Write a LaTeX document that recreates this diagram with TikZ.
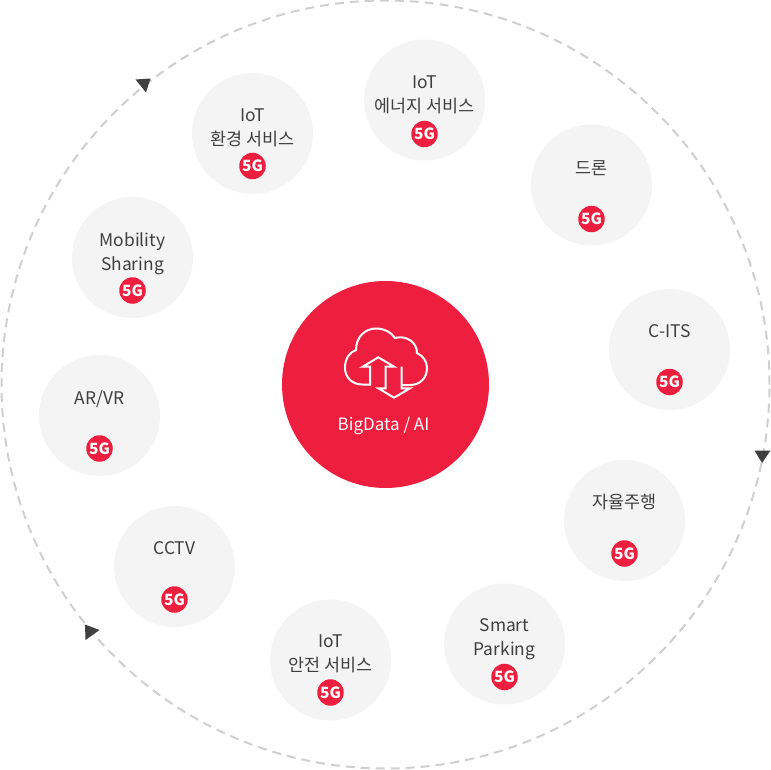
\documentclass[tikz,border=0pt]{standalone}
\usepackage{fontspec}
\setmainfont{Noto Sans CJK KR}[Scale=1]
\definecolor{brand}{HTML}{EE1F3E}
\definecolor{pale}{HTML}{F4F4F4}
\definecolor{ink}{HTML}{3F3F3F}
\definecolor{ringc}{HTML}{CFCFCF}
\newcommand{\svcitem}[6]{% name, x, y, text y offset, badge offset, text
  \node[bubble] (#1) at (#2,#3) {};
  \node[svctext] (#1t) at (#2,#3+#4+1.3) {#6};
  \node[badge] (#1b) at (#2,#3+#5) {5G};
}
\tikzset{
  bubble/.style={circle,fill=pale,minimum size=121pt,inner sep=0pt},
  svctext/.style={align=center,inner sep=0pt,text=ink,font=\fontsize{17.4}{24}\selectfont},
  badge/.style={circle,fill=brand,minimum size=26.5pt,inner sep=0pt,text=white,font=\fontsize{15.5}{16}\selectfont\bfseries},
  tri/.style={fill=ink,draw=none},
  icon/.style={draw=white,line width=2pt,line join=miter},
}
\begin{document}
\begin{tikzpicture}[x=1pt,y=-1pt]
\useasboundingbox (0,0) rectangle (771,770);
\node[circle,draw=ringc,dash pattern=on 9pt off 6pt,line width=2pt,minimum size=768pt,inner sep=0pt] (ring) at (385.5,384.5) {};
\fill[tri] (135.5,79.5) -- (150.5,78.5) -- (146,92.5) -- cycle;
\fill[tri] (754.5,450.5) -- (770.5,450.5) -- (762,463) -- cycle;
\fill[tri] (85,624.5) -- (99.5,630) -- (85.5,640) -- cycle;
\svcitem{env}{252.5}{133.5}{-6.5}{32.5}{IoT\\환경 서비스}
\svcitem{energy}{424.5}{100}{-6}{34}{IoT\\에너지 서비스}
\svcitem{drone}{591.5}{185}{-18}{34}{드론}
\svcitem{cits}{669.5}{349.5}{-20}{32.5}{C-ITS}
\svcitem{auto}{624.5}{520.5}{-19.5}{33}{자율주행}
\svcitem{park}{504.5}{644}{-6}{33}{Smart\\Parking}
\svcitem{safe}{330.5}{660}{-7}{32.5}{IoT\\안전 서비스}
\svcitem{cctv}{174.5}{566.5}{-19.5}{33}{CCTV}
\svcitem{arvr}{99.5}{415.5}{-18}{33}{AR/VR}
\svcitem{mob}{132.5}{257.5}{-5.5}{33}{Mobility\\Sharing}
\node[circle,fill=brand,minimum size=207pt,inner sep=0pt] (core) at (385.5,384.5) {};
\node[text=white,inner sep=0pt,font=\fontsize{17}{20}\selectfont] (corelabel) at (383.5,426) {BigData / AI};
\draw[icon] (370,384.5) -- (362,384.5) .. controls (352,384.5) and (345,377) .. (345,368)
  .. controls (345,358) and (350,352) .. (356,350)
  .. controls (356,337) and (365,328.5) .. (376,328.5)
  .. controls (384,328.5) and (391,332) .. (395,338)
  .. controls (406,335) and (417,342) .. (417,353)
  .. controls (423,356) and (427,361) .. (427,368)
  .. controls (427,378) and (420,385) .. (410,385) -- (401.7,385);
\draw[icon] (370,385.5) -- (370,366.7) -- (362.7,366.7) -- (378.3,357.3) -- (394,366.7) -- (385.7,366.7) -- (385.7,388.3) -- (378.3,388.3) -- (394,397.7) -- (410,388.3) -- (401.7,388.3) -- (401.7,366.5);
\end{tikzpicture}
\end{document}
